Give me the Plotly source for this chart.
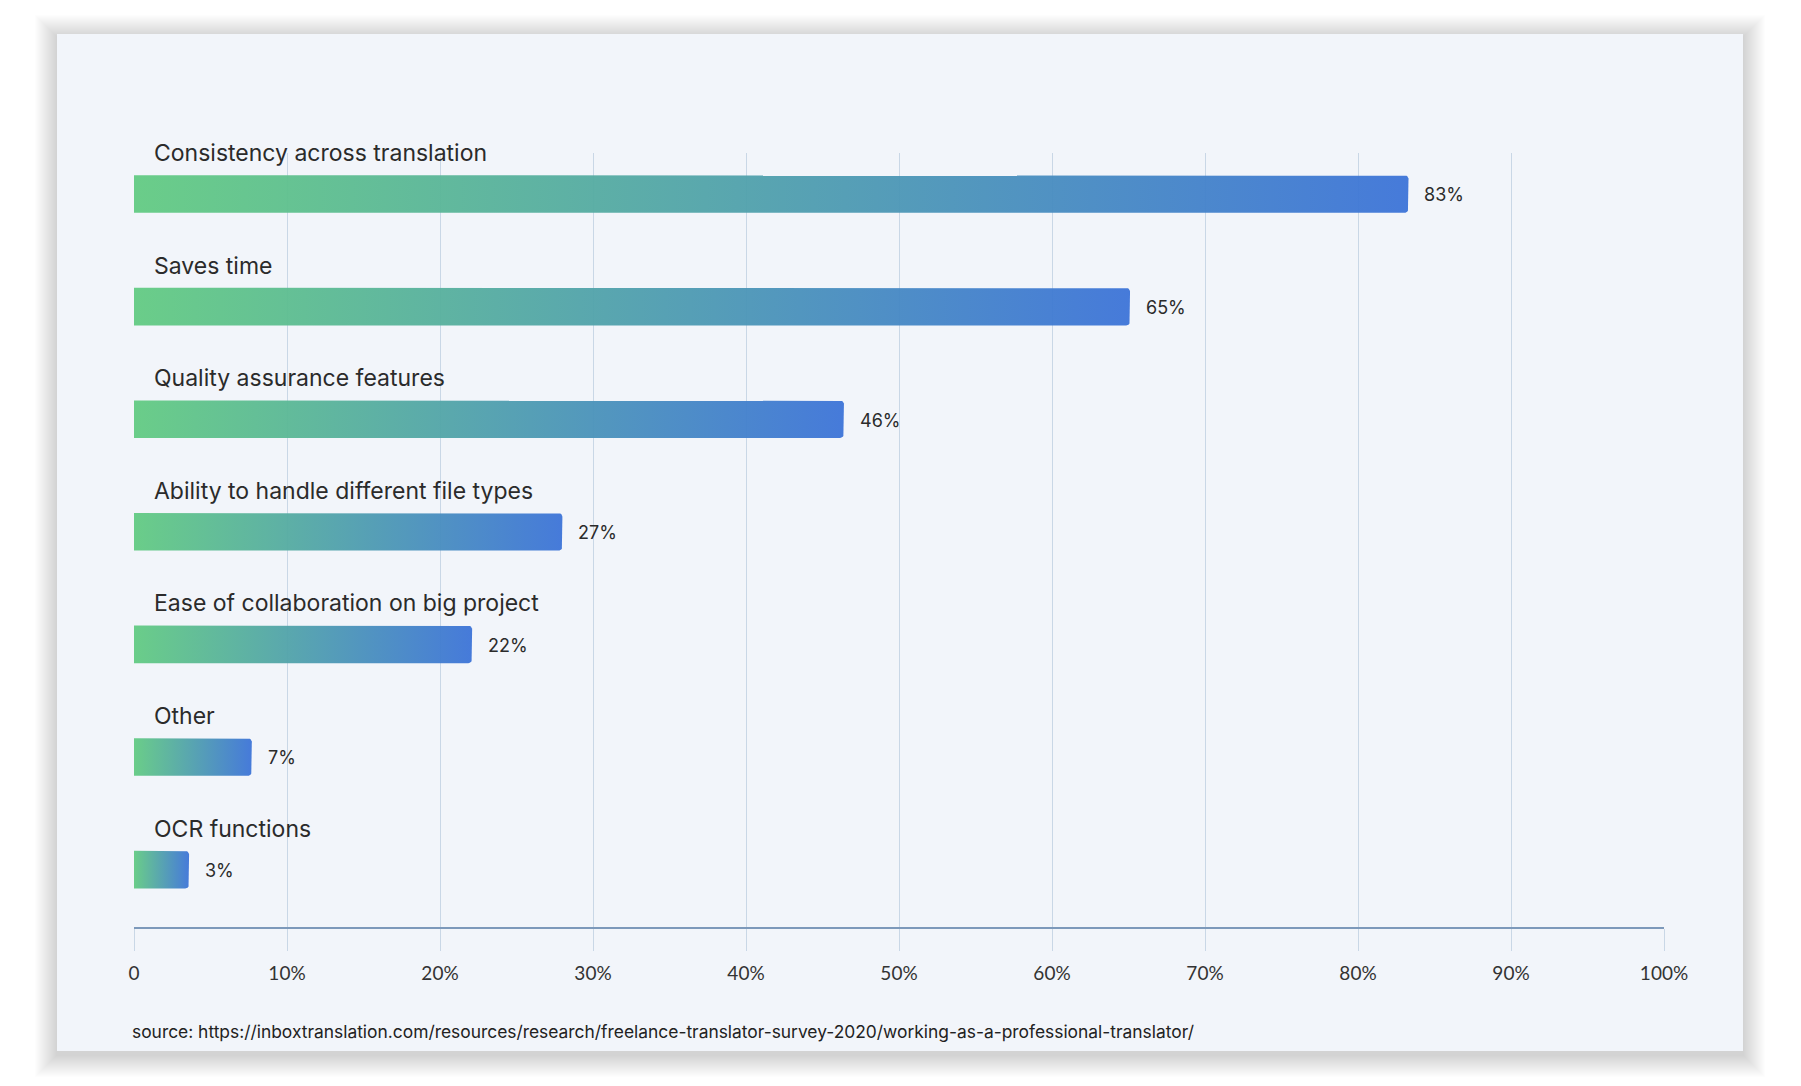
import numpy as np
import plotly.graph_objects as go

# ---------------- data ----------------
categories = [
    "Consistency across translation",
    "Saves time",
    "Quality assurance features",
    "Ability to handle different file types",
    "Ease of collaboration on big project",
    "Other",
    "OCR functions",
]
values = [83.3, 65.1, 46.4, 28.0, 22.1, 7.7, 3.6]
value_labels = ["83%", "65%", "46%", "27%", "22%", "7%", "3%"]
tick_vals = [0, 10, 20, 30, 40, 50, 60, 70, 80, 90, 100]
tick_text = ["0", "10%", "20%", "30%", "40%", "50%", "60%", "70%", "80%", "90%", "100%"]
source_text = ("source: https://inboxtranslation.com/resources/research/"
               "freelance-translator-survey-2020/working-as-a-professional-translator/")

# ---------------- layout constants ----------------
W, H = 1801, 1086
PLOT_L, PLOT_R, PLOT_T, PLOT_B = 134, 1664, 153, 927
Y_RANGE = [6.51, -0.364]
X_RANGE = [0, 100]
BAR_HALF = 0.167
RADIUS_PX = 4
PX_X = (PLOT_R - PLOT_L) / (X_RANGE[1] - X_RANGE[0])
PX_Y = (PLOT_B - PLOT_T) / (Y_RANGE[0] - Y_RANGE[1])

GREEN = "rgba(99,203,131,0.95)"
BLUE = "rgba(61,116,216,0.95)"
CARD = "#F2F5FA"
GRID = "#C9D7E6"
TEXT = "#2B2B2B"
FONT_LABEL = "Inter"
FONT_TICK = "Lato"

CARD_L, CARD_T, CARD_R, CARD_B = 57, 34, 1743, 1051


def px2paper_x(px):
    return px / W


def px2paper_y(py):
    return 1 - py / H


def bar_path(v, yc):
    rx = RADIUS_PX / PX_X
    ry = RADIUS_PX / PX_Y
    top = yc - BAR_HALF
    bot = yc + BAR_HALF
    xs = [0, v - rx]
    ys = [top, top]
    for t in np.linspace(-np.pi / 2, 0, 7)[1:]:
        xs.append(v - rx + rx * np.cos(t))
        ys.append(top + ry + ry * np.sin(t))
    for t in np.linspace(0, np.pi / 2, 7):
        xs.append(v - rx + rx * np.cos(t))
        ys.append(bot - ry + ry * np.sin(t))
    xs += [0, 0]
    ys += [bot, top]
    return xs, ys


fig = go.Figure()

for i, (cat, v) in enumerate(zip(categories, values)):
    xs, ys = bar_path(v, i)
    fig.add_trace(go.Scatter(
        x=xs, y=ys, mode="lines", fill="toself",
        line=dict(width=0, color="rgba(0,0,0,0)"),
        fillgradient=dict(type="horizontal", colorscale=[[0, GREEN], [1, BLUE]]),
        hoverinfo="skip", showlegend=False, name=cat,
    ))

annotations = []
for i, (cat, v, lab) in enumerate(zip(categories, values, value_labels)):
    annotations.append(dict(
        x=0, y=i, xref="x", yref="y", text=cat, showarrow=False,
        xanchor="left", yanchor="middle", xshift=18, yshift=41,
        font=dict(family=FONT_LABEL, size=23, color=TEXT),
    ))
    annotations.append(dict(
        x=v, y=i, xref="x", yref="y", text=lab, showarrow=False,
        xanchor="left", yanchor="middle", xshift=14, yshift=-1,
        font=dict(family=FONT_LABEL, size=18, color=TEXT),
    ))

annotations.append(dict(
    x=px2paper_x(130), y=px2paper_y(1031), xref="paper", yref="paper",
    text=source_text, showarrow=False, xanchor="left", yanchor="middle",
    font=dict(family=FONT_LABEL, size=17.4, color="#222222"),
))

shapes = []
# soft shadow
n_layers = 22
for k in range(n_layers, 0, -1):
    grow = k * 1.0
    shapes.append(dict(
        type="rect", xref="paper", yref="paper", layer="below",
        x0=px2paper_x(CARD_L - grow), x1=px2paper_x(CARD_R + grow),
        y0=px2paper_y(CARD_B + grow + 4), y1=px2paper_y(CARD_T - grow + 3),
        fillcolor="rgba(0,0,0,0.008)", line=dict(width=0),
    ))
shapes.append(dict(
    type="rect", xref="paper", yref="paper", layer="below",
    x0=px2paper_x(CARD_L), x1=px2paper_x(CARD_R),
    y0=px2paper_y(CARD_B), y1=px2paper_y(CARD_T),
    fillcolor=CARD, line=dict(width=0),
))

fig.update_layout(
    width=W, height=H, autosize=False,
    margin=dict(l=0, r=0, t=0, b=0, pad=0, autoexpand=False),
    paper_bgcolor="#FFFFFF",
    plot_bgcolor="rgba(0,0,0,0)",
    showlegend=False,
    shapes=shapes,
    annotations=annotations,
    xaxis=dict(
        domain=[px2paper_x(PLOT_L), px2paper_x(PLOT_R)],
        range=X_RANGE, tickvals=tick_vals, ticktext=tick_text,
        showgrid=True, gridcolor=GRID, gridwidth=1, zeroline=False,
        showline=True, linecolor="#7D99BA", linewidth=1.5,
        ticks="outside", ticklen=22, tickcolor=GRID, tickwidth=1,
        ticklabelstandoff=6, automargin=False,
        tickfont=dict(family=FONT_TICK, size=19, color="#333333"),
        fixedrange=True,
    ),
    yaxis=dict(
        domain=[px2paper_y(PLOT_B), px2paper_y(PLOT_T)],
        range=Y_RANGE, showgrid=False, zeroline=False, showline=False,
        showticklabels=False, ticks="", fixedrange=True, automargin=False,
    ),
)

fig.write_html("out.html", config={"responsive": False, "displayModeBar": False})
